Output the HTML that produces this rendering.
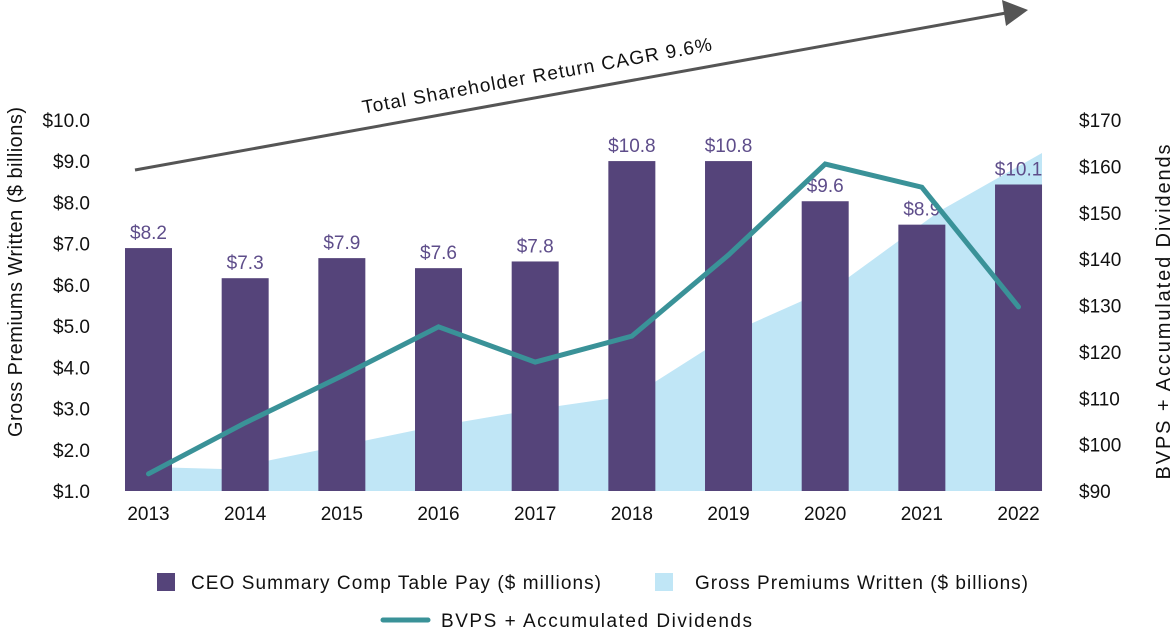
<!DOCTYPE html>
<html><head><meta charset="utf-8"><style>
body{margin:0;background:#fff;}
svg{display:block;font-family:"Liberation Sans",Arial,sans-serif;}
</style></head><body>
<svg id="chart" width="1175" height="633" viewBox="0 0 1175 633" xmlns="http://www.w3.org/2000/svg">
<g id="area"></g>
<g id="bars"></g>
<g id="line"></g>
<g id="axes"></g>
<g>
<line x1="135" y1="170" x2="1006" y2="13" stroke="#555" stroke-width="3"/>
<polygon points="1028,10 1002,0 1006,26" fill="#555"/>
<text x="538" y="82" font-size="19" fill="#111" text-anchor="middle" textLength="355" transform="rotate(-10.3 538 82)">Total Shareholder Return CAGR 9.6%</text>
</g>
<text transform="translate(22 272) rotate(-90)" font-size="20" fill="#111" text-anchor="middle" textLength="330">Gross Premiums Written ($ billions)</text>
<text transform="translate(1170 312) rotate(-90)" font-size="20" fill="#111" text-anchor="middle" textLength="335">BVPS + Accumulated Dividends</text>
<g>
<rect x="157" y="573" width="18" height="18" fill="#55447a"/>
<text x="191" y="589" font-size="19" fill="#111" textLength="410">CEO Summary Comp Table Pay ($ millions)</text>
<rect x="655" y="573" width="18" height="18" fill="#c0e6f6"/>
<text x="695" y="589" font-size="19" fill="#111" textLength="333">Gross Premiums Written ($ billions)</text>
<line x1="383" y1="620" x2="428" y2="620" stroke="#3a9298" stroke-width="5" stroke-linecap="round"/>
<text x="441" y="627" font-size="19" fill="#111" textLength="311">BVPS + Accumulated Dividends</text>
</g>
</svg>
<script>
const years=["2013","2014","2015","2016","2017","2018","2019","2020","2021","2022"];
const pay=[8.2,7.3,7.9,7.6,7.8,10.8,10.8,9.6,8.9,10.1];
const payLabels=["$8.2","$7.3","$7.9","$7.6","$7.8","$10.8","$10.8","$9.6","$8.9","$10.1"];
const premiums=[1.6,1.53,2.04,2.55,2.97,3.33,4.9,6.0,7.8,9.2];
const bvps=[93.7,104.7,114.8,125.4,117.8,123.4,140.9,160.5,155.5,129.7];
const leftTicks=["$1.0","$2.0","$3.0","$4.0","$5.0","$6.0","$7.0","$8.0","$9.0","$10.0"];
const rightTicks=["$90","$100","$110","$120","$130","$140","$150","$160","$170"];

const NS="http://www.w3.org/2000/svg";
const baseY=491, topY=120;
const yL=v=>baseY-(v-1)*(baseY-topY)/9;
const yR=v=>baseY-(v-90)*(baseY-topY)/80;
const yP=v=>baseY-(v-0.94)*33.46;
const xC=i=>148.5+i*96.67;
const xA=i=>125+i*(1042-125)/(premiums.length-1);
function mk(tag,attrs,parent){const e=document.createElementNS(NS,tag);for(const k in attrs)e.setAttribute(k,attrs[k]);parent.appendChild(e);return e;}

const area=document.getElementById('area');
let d="M"+xA(0)+","+baseY;
premiums.forEach((v,i)=>{d+=" L"+xA(i)+","+yL(v);});
d+=" L"+xA(premiums.length-1)+","+baseY+" Z";
const ap=mk('path',{d:d,fill:"#c0e6f6"},area);



const bars=document.getElementById('bars');
pay.forEach((v,i)=>{
  const y=yP(v);
  const r=mk('rect',{x:xC(i)-23.5,y:y,width:47,height:baseY-y,fill:"#55447a"},bars);
  
  
  const t=mk('text',{x:xC(i),y:y-9,"font-size":19,fill:"#5e4d8a","text-anchor":"middle"},bars);
  t.textContent=payLabels[i];
  
  
});

const line=document.getElementById('line');
const pl=mk('polyline',{points:bvps.map((v,i)=>xC(i)+","+yR(v)).join(" "),fill:"none",stroke:"#3a9298","stroke-width":5,"stroke-linecap":"round","stroke-linejoin":"miter"},line);



const axes=document.getElementById('axes');
leftTicks.forEach((s,i)=>{
  const t=mk('text',{x:90,y:yL(1+i)+7,"font-size":19,fill:"#111","text-anchor":"end"},axes);
  t.textContent=s;
  
  
});
rightTicks.forEach((s,i)=>{
  const t=mk('text',{x:1079,y:yR(90+i*10)+7,"font-size":19,fill:"#111"},axes);
  t.textContent=s;
  
  
});
years.forEach((s,i)=>{
  const t=mk('text',{x:xC(i),y:520,"font-size":19,fill:"#111","text-anchor":"middle"},axes);
  t.textContent=s;
  
  
});
</script>
</body></html>
